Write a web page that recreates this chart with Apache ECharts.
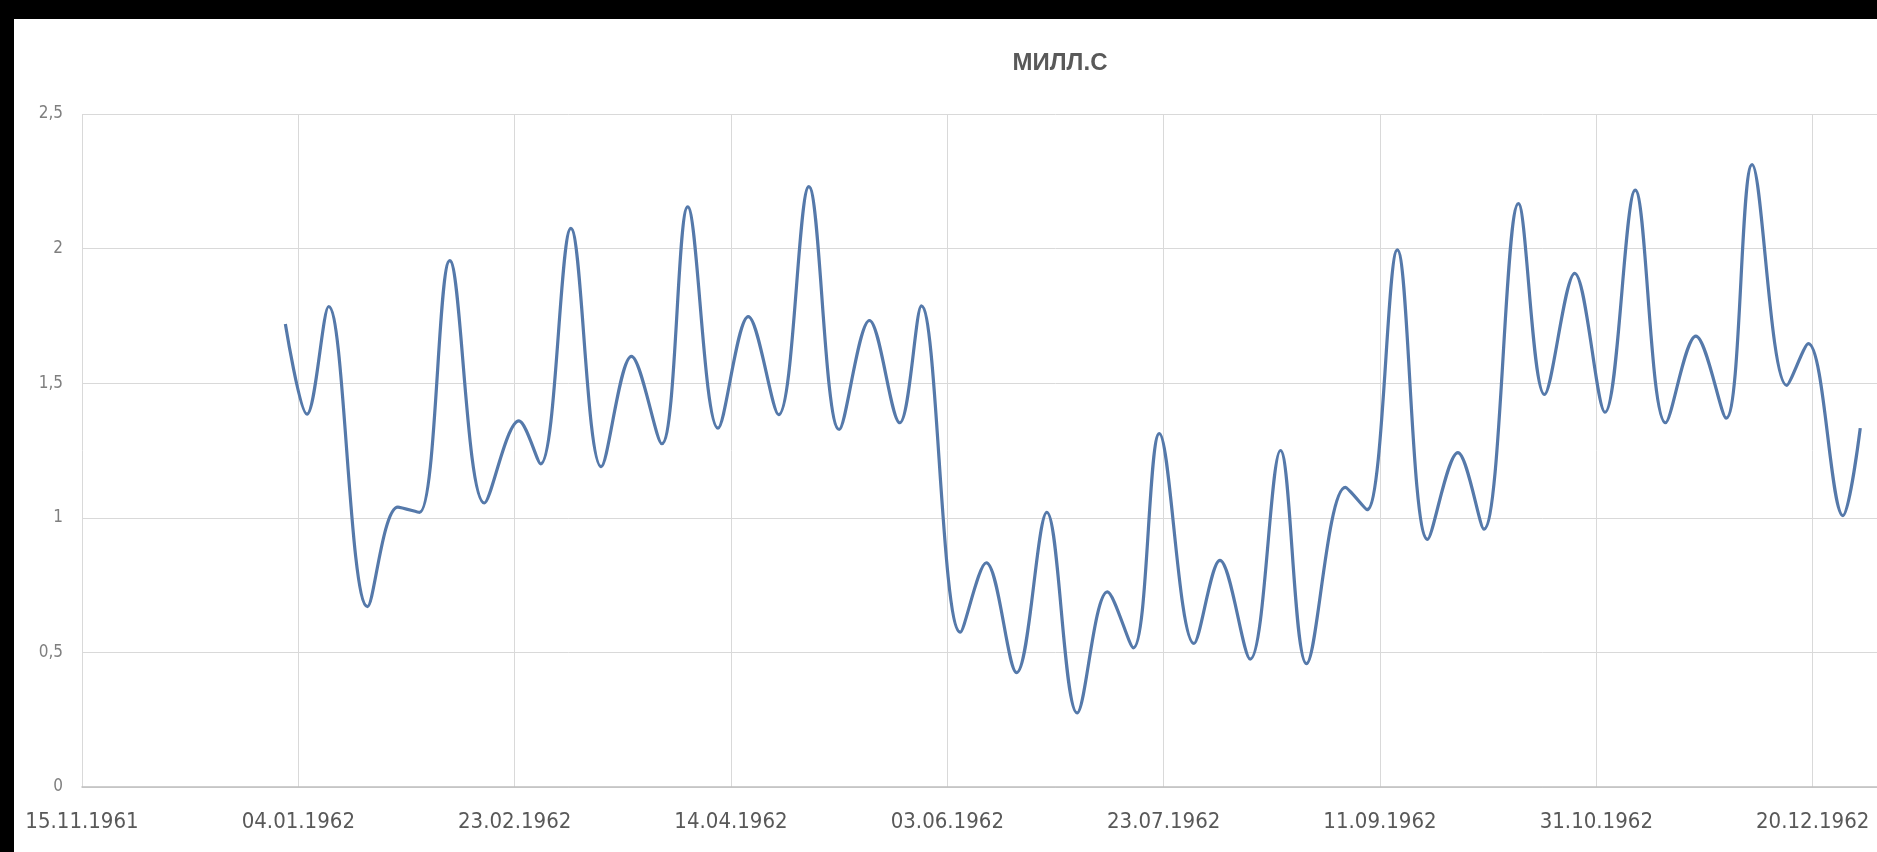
<!DOCTYPE html>
<html>
<head>
<meta charset="utf-8">
<script src="https://cdn.jsdelivr.net/npm/echarts@6/dist/echarts.min.js"></script>
<style>
  html, body { margin: 0; padding: 0; background: #000; width: 1877px; height: 852px; overflow: hidden; position: relative; }
  #chart { position: absolute; left: 14px; top: 19px; width: 2200px; height: 833px; background: #fff; }
</style>
</head>
<body>
<div id="chart"></div>
<script>
// ---- data ----
const title = 'МИЛЛ.С';
const dates = [
  '01.01.1962','06.01.1962','11.01.1962','20.01.1962','27.01.1962','01.02.1962','08.02.1962','16.02.1962',
  '24.02.1962','01.03.1962','08.03.1962','15.03.1962','22.03.1962','29.03.1962','04.04.1962','11.04.1962',
  '18.04.1962','25.04.1962','02.05.1962','09.05.1962','16.05.1962','23.05.1962','28.05.1962','06.06.1962',
  '12.06.1962','19.06.1962','26.06.1962','03.07.1962','10.07.1962','16.07.1962','22.07.1962','30.07.1962',
  '05.08.1962','12.08.1962','19.08.1962','25.08.1962','03.09.1962','08.09.1962','15.09.1962','22.09.1962',
  '29.09.1962','05.10.1962','13.10.1962','19.10.1962','26.10.1962','02.11.1962','09.11.1962','16.11.1962',
  '23.11.1962','30.11.1962','06.12.1962','14.12.1962','19.12.1962','27.12.1962','31.12.1962'
];
const values = [
  1.72, 1.385, 1.785, 0.67, 1.04, 1.02, 1.955, 1.055,
  1.36, 1.20, 2.075, 1.19, 1.60, 1.275, 2.155, 1.333,
  1.747, 1.383, 2.23, 1.328, 1.733, 1.353, 1.787, 0.575,
  0.833, 0.425, 1.02, 0.275, 0.725, 0.517, 1.313, 0.533,
  0.842, 0.475, 1.25, 0.458, 1.113, 1.03, 1.995, 0.92,
  1.242, 0.958, 2.167, 1.458, 1.908, 1.392, 2.217, 1.353,
  1.675, 1.37, 2.312, 1.492, 1.647, 1.008, 1.333
];
const xMinDate = '15.11.1961';
const xMaxDate = '08.02.1963';
const xStepDays = 50;
const yMin = 0, yMax = 2.5, yStep = 0.5;

// ---- helpers: dd.mm.yyyy <-> spreadsheet day serial ----
const EPOCH = Date.UTC(1899, 11, 30);
function toSerial(s) {
  const [d, m, y] = s.split('.').map(Number);
  return Math.round((Date.UTC(y, m - 1, d) - EPOCH) / 86400000);
}
function fromSerial(n) {
  const dt = new Date(EPOCH + n * 86400000);
  const dd = String(dt.getUTCDate()).padStart(2, '0');
  const mm = String(dt.getUTCMonth() + 1).padStart(2, '0');
  return dd + '.' + mm + '.' + dt.getUTCFullYear();
}

const seriesData = dates.map((d, i) => [toSerial(d), values[i]]);
const chart = echarts.init(document.getElementById('chart'));
const textColor = '#595959';
const font = '"Liberation Sans Narrow", "DejaVu Sans Condensed", "Liberation Sans", sans-serif';

chart.setOption({
  backgroundColor: '#ffffff',
  animation: false,
  title: {
    text: title,
    left: 1041,
    top: 27,
    textAlign: 'center',
    textStyle: { color: textColor, fontSize: 24, fontWeight: 'bold', fontFamily: '"Liberation Sans", sans-serif' }
  },
  grid: { left: 68, top: 95, width: 1947, height: 673, containLabel: false, outerBoundsMode: 'none' },
  xAxis: {
    type: 'value',
    min: toSerial(xMinDate),
    max: toSerial(xMaxDate),
    interval: xStepDays,
    axisLine: { show: true, lineStyle: { color: '#bfbfbf', width: 1.5 } },
    axisTick: { show: false },
    splitLine: { show: true, lineStyle: { color: '#d9d9d9', width: 1 } },
    axisLabel: {
      color: textColor, fontSize: 22, fontFamily: font, margin: 24,
      formatter: v => fromSerial(v)
    }
  },
  yAxis: {
    type: 'value',
    min: yMin, max: yMax, interval: yStep,
    axisLine: { show: false },
    axisTick: { show: false },
    splitLine: { show: true, lineStyle: { color: '#d9d9d9', width: 1 } },
    axisLabel: {
      color: '#7f7f7f', fontSize: 17, fontFamily: font, margin: 19,
      formatter: v => String(v).replace('.', ',')
    }
  },
  series: [{
    type: 'line',
    data: seriesData,
    smooth: 0.35,
    showSymbol: false,
    lineStyle: { color: '#5579aa', width: 3.2 }
  }]
});
</script>
</body>
</html>
